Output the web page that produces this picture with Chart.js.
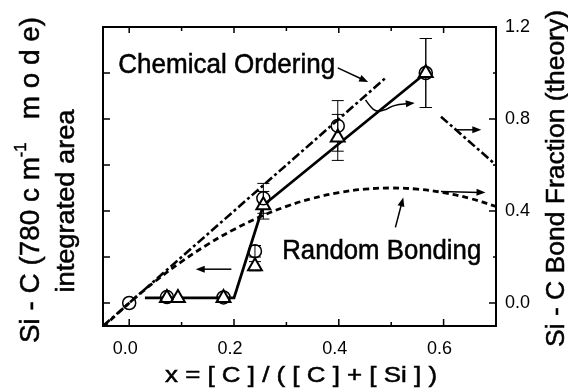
<!DOCTYPE html>
<html><head><meta charset="utf-8">
<script src="https://cdn.jsdelivr.net/npm/chart.js@4/dist/chart.umd.min.js"></script>
<style>html,body{margin:0;padding:0;background:#fff}</style>
</head><body>
<canvas id="c" width="568" height="392"></canvas>
<script>
// ---------- data ----------
const xTickValues = [0.0, 0.2, 0.4, 0.6];
const xMinorTicks = [0.1, 0.3, 0.5];
const yTickValues = [0.0, 0.4, 0.8, 1.2];
const yMinorTicks = [0.2, 0.6, 1.0];
const yLeftTicks = [0.0, 0.2, 0.4, 0.6, 0.8, 1.0];

const circleX   = [0.0, 0.072, 0.18, 0.24, 0.256, 0.398, 0.566];
const circleY   = [0.0, 0.026, 0.024, 0.225, 0.455, 0.77, 1.0];
const circleErr = [0, 0, 0, 0.025, 0.065, 0.11, 0.15];

const triX   = [0.072, 0.093, 0.18, 0.24, 0.256, 0.398, 0.566];
const triY   = [0.022, 0.022, 0.022, 0.16, 0.425, 0.72, 1.0];
const triErr = [0, 0, 0, 0.02, 0.06, 0.10, 0.15];

const fitX = [0.03, 0.2, 0.256, 0.566];
const fitY = [0.022, 0.022, 0.425, 1.0];

const chemX = [-0.05, 0.49, 0.54, 0.595, 0.70];
const chemY = [-0.10, 0.98, null, 0.81, 0.60];

const randX = [-0.05, 0.0, 0.05, 0.10, 0.15, 0.20, 0.25, 0.30, 0.35, 0.40, 0.45, 0.50, 0.55, 0.60, 0.65, 0.70];
const randY = [-0.105, 0.0, 0.095, 0.18, 0.255, 0.32, 0.375, 0.42, 0.455, 0.48, 0.495, 0.50, 0.495, 0.48, 0.455, 0.42];

// ---------- annotations (data coordinates) ----------
const labels = [
  {text: 'Chemical Ordering', x: -0.021, y: 1.0, size: 26, width: 217},
  {text: 'Random Bonding', x: 0.292, y: 0.19, size: 26, width: 199}
];
const arrows = [
  {pts: [[0.398, 1.022], [0.456, 0.961]], curve: false},
  {pts: [[0.451, 0.883], [0.460, 0.853], [0.472, 0.831], [0.491, 0.840], [0.504, 0.861], [0.545, 0.870]], curve: true},
  {pts: [[0.623, 0.753], [0.672, 0.753]], curve: false},
  {pts: [[0.595, 0.485], [0.680, 0.480]], curve: false},
  {pts: [[0.508, 0.329], [0.523, 0.459]], curve: false},
  {pts: [[0.195, 0.147], [0.127, 0.147]], curve: false}
];

const FONT = '"Liberation Sans", Arial, Helvetica, sans-serif';

function toPts(xs, ys) { return xs.map((x, i) => ({x: x, y: ys[i]})); }

function drawRich(ctx, segs, x, y, o) {
  let natural = 0;
  const ws = segs.map(s => { ctx.font = s.size + 'px ' + FONT; const w = ctx.measureText(s.t).width; natural += w; return w; });
  const target = o.target || natural;
  const sx = target / natural, sy = o.sy || 1;
  ctx.save();
  ctx.translate(x, y);
  if (o.rot) ctx.rotate(o.rot);
  ctx.scale(sx, sy);
  let cx = o.align === 'left' ? 0 : -natural / 2;
  ctx.textBaseline = o.baseline || 'middle';
  ctx.textAlign = 'left';
  ctx.fillStyle = '#000';
  ctx.strokeStyle = '#000';
  ctx.lineWidth = 0.5;
  segs.forEach((s, i) => {
    ctx.font = s.size + 'px ' + FONT;
    ctx.fillText(s.t, cx, s.dy || 0);
    ctx.strokeText(s.t, cx, s.dy || 0);
    cx += ws[i];
  });
  ctx.restore();
}

function arrowHead(ctx, x1, y1, x2, y2) {
  const a = Math.atan2(y2 - y1, x2 - x1), L = 9, W = 3.5;
  ctx.beginPath();
  ctx.moveTo(x2, y2);
  ctx.lineTo(x2 - L * Math.cos(a) + W * Math.sin(a), y2 - L * Math.sin(a) - W * Math.cos(a));
  ctx.lineTo(x2 - L * Math.cos(a) - W * Math.sin(a), y2 - L * Math.sin(a) + W * Math.cos(a));
  ctx.closePath();
  ctx.fill();
}

const decor = {
  id: 'decor',
  beforeDatasetsDraw(chart) {
    const {ctx, scales: {x, y}} = chart;
    ctx.save();
    ctx.strokeStyle = '#000'; ctx.lineWidth = 1;
    const bars = (xs, ys, es) => xs.forEach((xv, i) => {
      const e = es[i]; if (!e) return;
      const px = x.getPixelForValue(xv);
      const t = y.getPixelForValue(ys[i] + e), b = y.getPixelForValue(ys[i] - e);
      ctx.beginPath();
      ctx.moveTo(px, t); ctx.lineTo(px, b);
      ctx.moveTo(px - 6, t); ctx.lineTo(px + 6, t);
      ctx.moveTo(px - 6, b); ctx.lineTo(px + 6, b);
      ctx.stroke();
    });
    bars(circleX, circleY, circleErr);
    bars(triX, triY, triErr);
    ctx.restore();
  },
  afterDatasetsDraw(chart) {
    const {ctx, chartArea: ca, scales: {x, y, y2}} = chart;
    ctx.save();
    // frame
    ctx.strokeStyle = '#000'; ctx.lineWidth = 2;
    ctx.strokeRect(ca.left, ca.top, ca.right - ca.left, ca.bottom - ca.top);
    // inward ticks
    ctx.lineWidth = 1.5;
    ctx.beginPath();
    xTickValues.forEach(v => { const p = x.getPixelForValue(v);
      ctx.moveTo(p, ca.bottom); ctx.lineTo(p, ca.bottom - 7);
      ctx.moveTo(p, ca.top); ctx.lineTo(p, ca.top + 6); });
    xMinorTicks.forEach(v => { const p = x.getPixelForValue(v);
      ctx.moveTo(p, ca.bottom); ctx.lineTo(p, ca.bottom - 4);
      ctx.moveTo(p, ca.top); ctx.lineTo(p, ca.top + 4); });
    yLeftTicks.forEach(v => { const p = y.getPixelForValue(v);
      ctx.moveTo(ca.left, p); ctx.lineTo(ca.left + 7, p); });
    yTickValues.forEach(v => { const p = y2.getPixelForValue(v);
      ctx.moveTo(ca.right, p); ctx.lineTo(ca.right - 7, p); });
    yMinorTicks.forEach(v => { const p = y2.getPixelForValue(v);
      ctx.moveTo(ca.right, p); ctx.lineTo(ca.right - 3, p); });
    ctx.stroke();
    // arrows
    ctx.fillStyle = '#000'; ctx.lineWidth = 1.5;
    arrows.forEach(a => {
      const P = a.pts.map(p => [x.getPixelForValue(p[0]), y2.getPixelForValue(p[1])]);
      ctx.beginPath();
      ctx.moveTo(P[0][0], P[0][1]);
      if (a.curve) {
        for (let i = 1; i < P.length - 1; i++) {
          const mx = (P[i][0] + P[i + 1][0]) / 2, my = (P[i][1] + P[i + 1][1]) / 2;
          ctx.quadraticCurveTo(P[i][0], P[i][1], mx, my);
        }
      }
      const L = P[P.length - 1], Q = P[P.length - 2];
      const a0 = Math.atan2(L[1] - Q[1], L[0] - Q[0]);
      ctx.lineTo(L[0] - 6 * Math.cos(a0), L[1] - 6 * Math.sin(a0));
      ctx.stroke();
      arrowHead(ctx, Q[0], Q[1], L[0], L[1]);
    });
    // in-plot labels
    labels.forEach(l => drawRich(ctx, [{t: l.text, size: l.size}],
      x.getPixelForValue(l.x), y2.getPixelForValue(l.y), {target: l.width, align: 'left', baseline: 'alphabetic', sy: 1.08}));
    ctx.restore();
  },
  afterDraw(chart) {
    const {ctx} = chart;
    // axis titles
    drawRich(ctx, [{t: 'Si - C (780 c m', size: 27}, {t: '-1', size: 16, dy: -10}, {t: '   m o d e)', size: 27}],
      32, 180, {target: 326, rot: -Math.PI / 2});
    drawRich(ctx, [{t: 'integrated area', size: 25}], 67, 201, {target: 183, rot: -Math.PI / 2});
    drawRich(ctx, [{t: 'Si - C Bond Fraction (theory)', size: 26}], 557, 178.5, {target: 337, rot: -Math.PI / 2});
    drawRich(ctx, [{t: 'x = [ C ] / ( [ C ] + [ Si ] )', size: 22}], 301, 382, {target: 272, baseline: 'alphabetic'});
  }
};

new Chart(document.getElementById('c'), {
  type: 'scatter',
  data: {
    datasets: [
      {data: toPts(circleX, circleY), pointStyle: 'circle', pointRadius: 6.5, pointBorderWidth: 1.5,
       borderColor: '#000', backgroundColor: 'rgba(255,255,255,0)', showLine: false, yAxisID: 'y'},
      {data: toPts(triX, triY), pointStyle: 'triangle', pointRadius: 8, pointBorderWidth: 2,
       borderColor: '#000', backgroundColor: '#fff', showLine: false, yAxisID: 'y'},
      {data: toPts(fitX, fitY), showLine: true, pointRadius: 0, borderColor: '#000', borderWidth: 2.8, yAxisID: 'y'},
      {data: toPts(chemX, chemY), showLine: true, spanGaps: false, pointRadius: 0, borderColor: '#000', borderWidth: 2.6,
       borderDash: [9, 3, 3, 3], yAxisID: 'y2'},
      {data: toPts(randX, randY), showLine: true, pointRadius: 0, borderColor: '#000', borderWidth: 2.8,
       borderDash: [6, 4], tension: 0.4, yAxisID: 'y2'}
    ]
  },
  options: {
    responsive: false, animation: false, devicePixelRatio: 1,
    layout: {padding: {top: 27, left: 0, right: 0, bottom: 0}},
    plugins: {legend: {display: false}, tooltip: {enabled: false}},
    scales: {
      x: {type: 'linear', position: 'bottom', min: -0.05, max: 0.7,
        afterBuildTicks: s => { s.ticks = xTickValues.map(v => ({value: v})); },
        afterFit: s => { s.height = 66; },
        grid: {display: false, drawTicks: false}, border: {display: false},
        ticks: {color: '#000', font: {family: FONT, size: 18}, padding: 12, labelOffset: -4,
          maxRotation: 0, autoSkip: false, callback: v => v.toFixed(1)}},
      y: {type: 'linear', position: 'left', min: -0.1, max: 1.2,
        afterBuildTicks: s => { s.ticks = yLeftTicks.map(v => ({value: v})); },
        afterFit: s => { s.width = 103; },
        grid: {display: false, drawTicks: false}, border: {display: false}, ticks: {display: false}},
      y2: {type: 'linear', position: 'right', min: -0.1, max: 1.2,
        afterBuildTicks: s => { s.ticks = yTickValues.map(v => ({value: v})); },
        afterFit: s => { s.width = 72; },
        grid: {display: false, drawTicks: false}, border: {display: false},
        ticks: {color: '#000', font: {family: FONT, size: 18}, padding: 9, autoSkip: false,
          callback: v => v.toFixed(1)}}
    }
  },
  plugins: [decor]
});
</script>
</body></html>
